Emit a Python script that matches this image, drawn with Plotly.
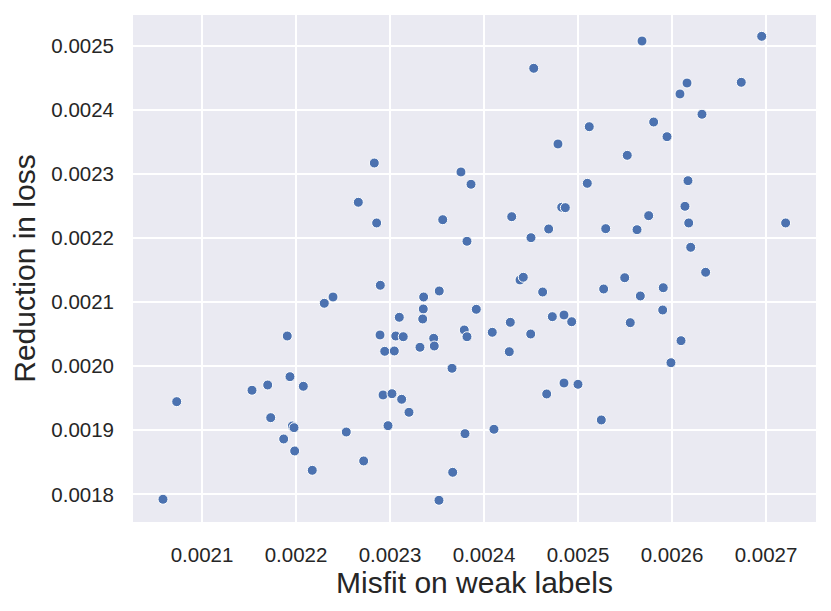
import plotly.graph_objects as go

misfit = [
    0.0020585, 0.0020731, 0.0021532, 0.0021699, 0.0021907, 0.0021936, 0.0022078, 0.0021731,
    0.0021961, 0.0021979, 0.0021869, 0.0021986, 0.0022173, 0.0022301, 0.0022394, 0.0022535,
    0.0022663, 0.0022720, 0.0022833, 0.0022858, 0.0022897, 0.0022894, 0.0022944, 0.0023046,
    0.0023061, 0.0023141, 0.0022926, 0.0023021, 0.0023124, 0.0023202, 0.0022979, 0.0023099,
    0.0023319, 0.0023358, 0.0023354, 0.0023348, 0.0023465, 0.0023471, 0.0023524, 0.0023521,
    0.0023561, 0.0023660, 0.0023667, 0.0023755, 0.0023790, 0.0023819, 0.0023798, 0.0023819,
    0.0023862, 0.0023918, 0.0024088, 0.0024106, 0.0024269, 0.0024280, 0.0024295, 0.0024383,
    0.0024418, 0.0024500, 0.0024497, 0.0024529, 0.0024624, 0.0024667, 0.0024688, 0.0024727,
    0.0024787, 0.0024827, 0.0024865, 0.0024851, 0.0024851, 0.0024933, 0.0025000, 0.0025099,
    0.0025120, 0.0025248, 0.0025273, 0.0025295, 0.0025497, 0.0025524, 0.0025556, 0.0025628,
    0.0025663, 0.0025681, 0.0025752, 0.0025805, 0.0025907, 0.0025901, 0.0025947, 0.0025989,
    0.0026085, 0.0026096, 0.0026138, 0.0026160, 0.0026170, 0.0026178, 0.0026199, 0.0026319,
    0.0026358, 0.0026737, 0.0026954, 0.0027209,
]

reduction = [
    0.0017923, 0.0019447, 0.0019625, 0.0019707, 0.0020472, 0.0019837, 0.0019687, 0.0019197,
    0.0019067, 0.0019041, 0.0018864, 0.0018677, 0.0018375, 0.0020983, 0.0021081, 0.0018973,
    0.0022560, 0.0018521, 0.0023173, 0.0022237, 0.0021264, 0.0020488, 0.0020233, 0.0020238,
    0.0020472, 0.0020461, 0.0019551, 0.0019571, 0.0019484, 0.0019281, 0.0019072, 0.0020764,
    0.0020296, 0.0021081, 0.0020894, 0.0020738, 0.0020436, 0.0020316, 0.0021175, 0.0017907,
    0.0022288, 0.0019968, 0.0018344, 0.0023033, 0.0020566, 0.0020461, 0.0018947, 0.0021951,
    0.0022841, 0.0020889, 0.0020530, 0.0019016, 0.0020227, 0.0020686, 0.0022335, 0.0021347,
    0.0021389, 0.0022007, 0.0020503, 0.0024652, 0.0021159, 0.0019567, 0.0022143, 0.0020774,
    0.0023470, 0.0022482, 0.0022476, 0.0020800, 0.0019738, 0.0020695, 0.0019718, 0.0022856,
    0.0023740, 0.0019161, 0.0021206, 0.0022148, 0.0021382, 0.0023293, 0.0020680, 0.0022132,
    0.0021097, 0.0025078, 0.0022351, 0.0023813, 0.0021226, 0.0020878, 0.0023584, 0.0020055,
    0.0024251, 0.0020399, 0.0022497, 0.0024422, 0.0022897, 0.0022237, 0.0021857, 0.0023934,
    0.0021467, 0.0024433, 0.0025151, 0.0022237,
]

x_ticks = [0.0021, 0.0022, 0.0023, 0.0024, 0.0025, 0.0026, 0.0027]
y_ticks = [0.0018, 0.0019, 0.0020, 0.0021, 0.0022, 0.0023, 0.0024, 0.0025]

FONT = "Arial, 'Liberation Sans', sans-serif"
TXT = "#262626"

fig = go.Figure(
    go.Scatter(
        x=misfit, y=reduction, mode="markers",
        marker=dict(color="#4C72B0", size=10, line=dict(color="white", width=1)),
        showlegend=False,
    )
)

# page body has an 8px default margin, so the figure is sized to fit beside it
fig.update_layout(
    width=823, height=603,
    margin=dict(l=125, r=15, t=7, b=89, autoexpand=False),
    paper_bgcolor="white",
    plot_bgcolor="#EAEAF2",
    font=dict(family=FONT, color=TXT, size=20),
)

fig.update_xaxes(
    range=[0.0020266, 0.0027532],
    tickvals=x_ticks, ticktext=[f"{v:.4f}" for v in x_ticks],
    showgrid=True, gridcolor="white", gridwidth=2,
    zeroline=False, showline=False, ticks="",
    tickfont=dict(size=20.5, family=FONT, color=TXT),
    ticklabelstandoff=18,
    automargin=False,
    title=dict(text="Misfit on weak labels", font=dict(size=30, family=FONT, color=TXT), standoff=4),
)
fig.update_yaxes(
    range=[0.0017568, 0.0025484],
    tickvals=y_ticks, ticktext=[f"{v:.4f}" for v in y_ticks],
    showgrid=True, gridcolor="white", gridwidth=2,
    zeroline=False, showline=False, ticks="",
    tickfont=dict(size=20.5, family=FONT, color=TXT),
    ticklabelstandoff=18,
    automargin=False,
    title=dict(text="Reduction in loss", font=dict(size=30, family=FONT, color=TXT), standoff=6),
)

fig.write_html("out.html")
